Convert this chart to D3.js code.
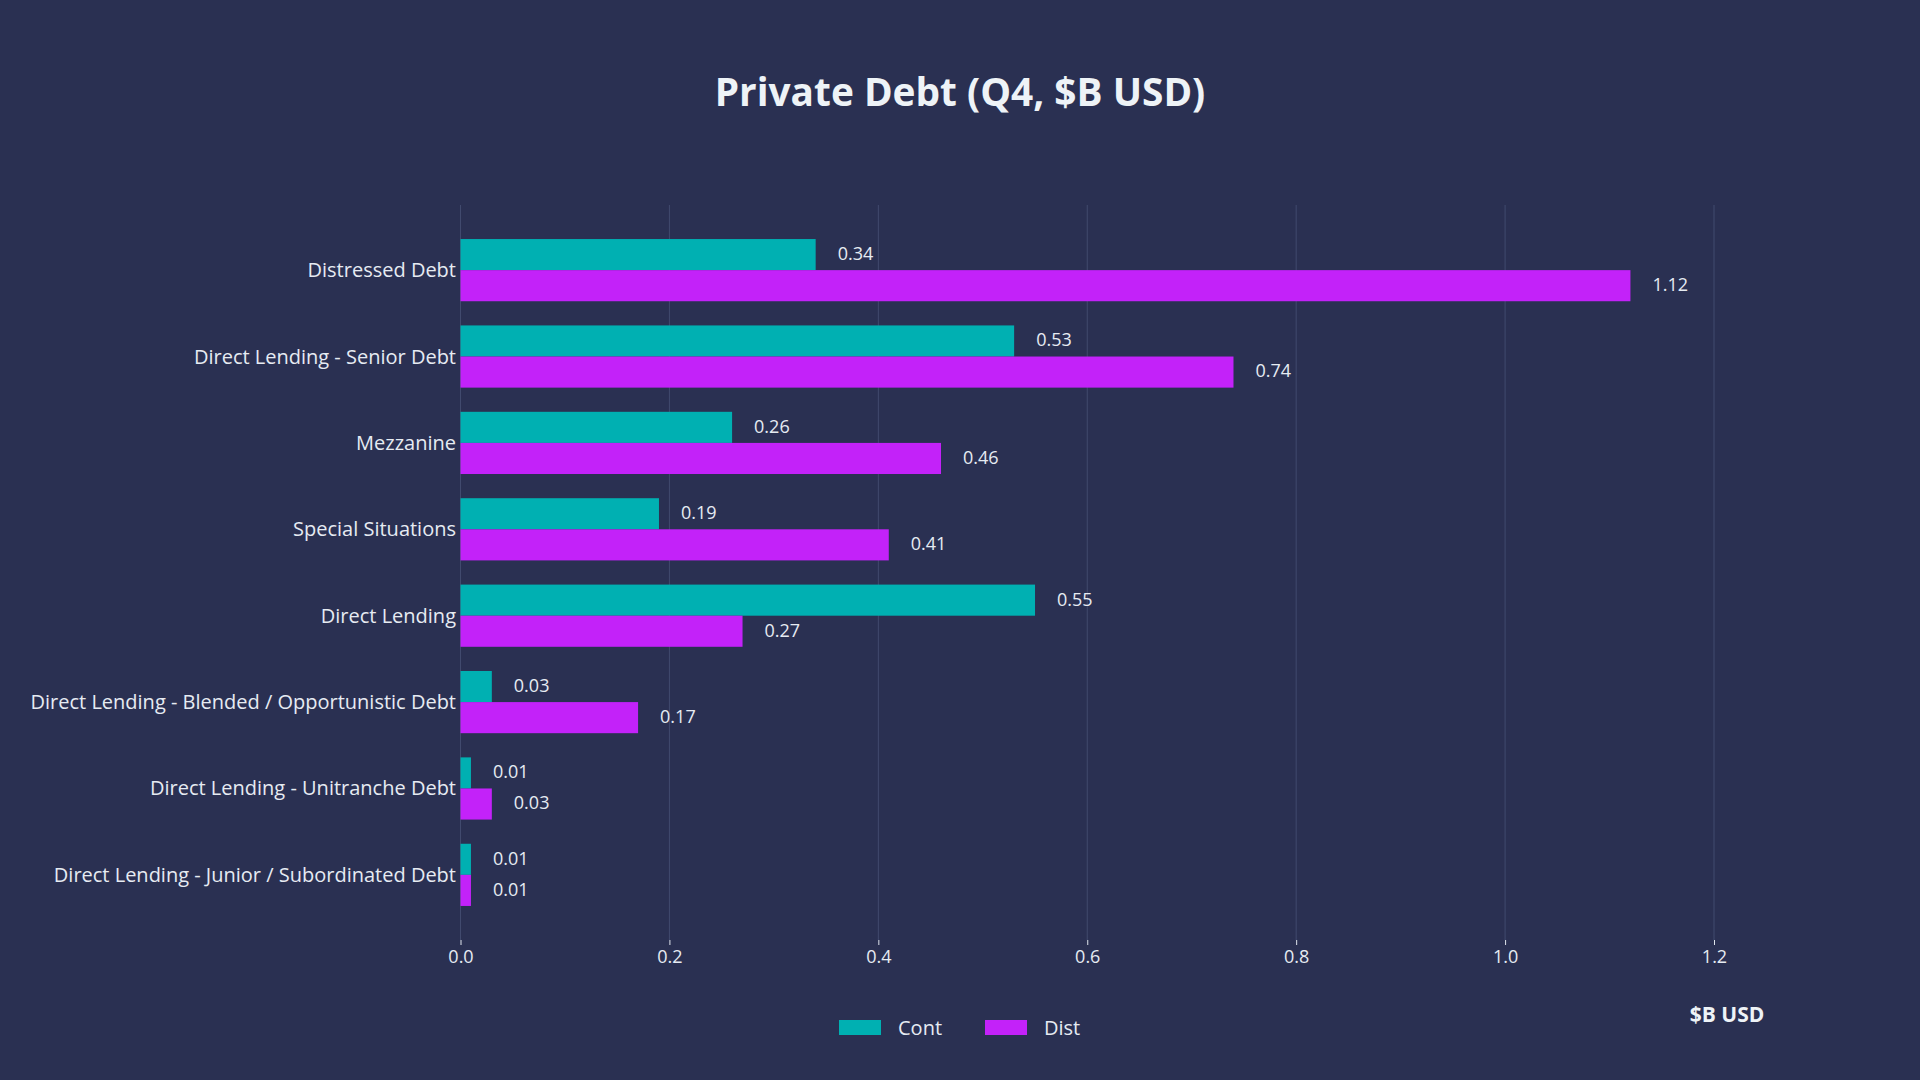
<!DOCTYPE html>
<html>
<head>
<meta charset="utf-8">
<script src="https://cdn.jsdelivr.net/npm/d3@7"></script>
<style>
  html, body { margin: 0; padding: 0; background: #2a3052; }
  svg { display: block; font-family: "Open Sans", sans-serif; }
</style>
</head>
<body>
<div id="chart"></div>
<script>
// データ
var categories = [
  "Distressed Debt",
  "Direct Lending - Senior Debt",
  "Mezzanine",
  "Special Situations",
  "Direct Lending",
  "Direct Lending - Blended / Opportunistic Debt",
  "Direct Lending - Unitranche Debt",
  "Direct Lending - Junior / Subordinated Debt"
];
var contValues = [0.34, 0.53, 0.26, 0.19, 0.55, 0.03, 0.01, 0.01];
var distValues = [1.12, 0.74, 0.46, 0.41, 0.27, 0.17, 0.03, 0.01];
var seriesNames = ["Cont", "Dist"];
var xTicks = [0, 0.2, 0.4, 0.6, 0.8, 1.0, 1.2];

var colors = { Cont: "#00b0b2", Dist: "#c322f9" };
var W = 1920, H = 1080;

var rows = categories.map(function(c, i) {
  return { name: c, Cont: contValues[i], Dist: distValues[i] };
});

var svg = d3.select("#chart").append("svg")
  .attr("width", W)
  .attr("height", H);

svg.append("rect").attr("width", W).attr("height", H).attr("fill", "#2a3052");

// スケール
var x = d3.scaleLinear().domain([0, 1.2]).range([460.5, 1714]);
var y = d3.scaleBand().domain(categories).range([205, 940])
  .paddingInner(0.28).paddingOuter(0.394);
var ySub = d3.scaleBand().domain(seriesNames).range([0, y.bandwidth()]);

// グリッド線
svg.append("g").selectAll("line")
  .data(xTicks)
  .enter().append("line")
  .attr("x1", function(d) { return x(d); })
  .attr("x2", function(d) { return x(d); })
  .attr("y1", 205)
  .attr("y2", 940)
  .attr("stroke", "#414a6e")
  .attr("stroke-width", 1);

// x軸
var xAxis = svg.append("g")
  .attr("transform", "translate(0,940)")
  .call(d3.axisBottom(x).tickValues(xTicks).tickFormat(d3.format(".1f")).tickSize(5).tickPadding(5));
xAxis.select(".domain").remove();
xAxis.selectAll("line").attr("stroke", "#dfe4ec");
xAxis.selectAll("text")
  .attr("fill", "#e6ebf2")
  .style("font-size", "18px")
  .style("font-family", "Open Sans");

// 棒グラフ
var groups = svg.append("g").selectAll("g")
  .data(rows)
  .enter().append("g")
  .attr("transform", function(d) { return "translate(0," + y(d.name) + ")"; });

groups.selectAll("rect")
  .data(function(d) { return seriesNames.map(function(s) { return { s: s, v: d[s] }; }); })
  .enter().append("rect")
  .attr("x", x(0))
  .attr("y", function(d) { return ySub(d.s); })
  .attr("width", function(d) { return x(d.v) - x(0); })
  .attr("height", ySub.bandwidth())
  .attr("fill", function(d) { return colors[d.s]; });

// 数値ラベル
groups.selectAll("text.val")
  .data(function(d) { return seriesNames.map(function(s) { return { s: s, v: d[s] }; }); })
  .enter().append("text")
  .attr("class", "val")
  .attr("x", function(d) { return x(d.v) + 22; })
  .attr("y", function(d) { return ySub(d.s) + ySub.bandwidth() / 2; })
  .attr("dy", "0.3em")
  .attr("fill", "#e6ebf2")
  .style("font-size", "18px")
  .text(function(d) { return d3.format(".2f")(d.v); });

// カテゴリー名
svg.append("g").selectAll("text")
  .data(categories)
  .enter().append("text")
  .attr("x", 456)
  .attr("y", function(d) { return y(d) + y.bandwidth() / 2; })
  .attr("dy", "0.35em")
  .attr("text-anchor", "end")
  .attr("fill", "#e6ebf2")
  .style("font-size", "20px")
  .text(function(d) { return d; });

// タイトル
svg.append("text")
  .attr("x", 960)
  .attr("y", 106)
  .attr("text-anchor", "middle")
  .attr("fill", "#eef3f7")
  .style("font-size", "38.8px")
  .style("font-weight", "bold")
  .text("Private Debt (Q4, $B USD)");

// x軸タイトル
svg.append("text")
  .attr("x", 1727)
  .attr("y", 1022)
  .attr("text-anchor", "middle")
  .attr("fill", "#eef3f7")
  .style("font-size", "21px")
  .style("font-weight", "bold")
  .text("$B USD");

// 凡例
var legend = svg.append("g").selectAll("g")
  .data(seriesNames)
  .enter().append("g")
  .attr("transform", function(d, i) { return "translate(" + (839 + i * 146) + ",1020)"; });
legend.append("rect")
  .attr("width", 42)
  .attr("height", 15)
  .attr("fill", function(d) { return colors[d]; });
legend.append("text")
  .attr("x", 59)
  .attr("y", 7.5)
  .attr("dy", "0.35em")
  .attr("fill", "#e6ebf2")
  .style("font-size", "20px")
  .text(function(d) { return d; });
</script>
</body>
</html>
